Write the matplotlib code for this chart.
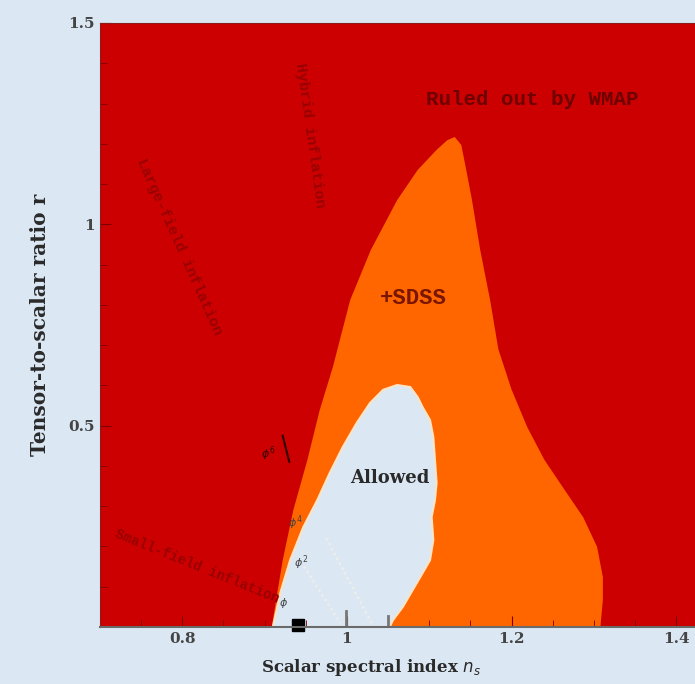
import matplotlib.pyplot as plt
from matplotlib.ticker import MultipleLocator

# outer boundary of the SDSS 95% region (orange)
sdss_ns = [0.909, 0.910, 0.922, 0.935, 0.952, 0.967, 0.983, 1.004, 1.029, 1.061,
           1.086, 1.109, 1.122, 1.131, 1.139, 1.145, 1.152, 1.162, 1.174, 1.184,
           1.200, 1.219, 1.240, 1.267, 1.287, 1.304, 1.311, 1.311, 1.308]
sdss_r = [0.0, 0.017, 0.166, 0.291, 0.415, 0.539, 0.646, 0.812, 0.936, 1.060,
          1.135, 1.185, 1.209, 1.217, 1.197, 1.135, 1.060, 0.936, 0.812, 0.690,
          0.590, 0.497, 0.415, 0.333, 0.273, 0.199, 0.124, 0.067, 0.0]

# inner "allowed" region
allowed_ns = [0.910, 0.919, 0.931, 0.947, 0.964, 0.979, 0.995, 1.012, 1.028, 1.044,
              1.061, 1.077, 1.086, 1.092, 1.101, 1.105, 1.107, 1.109, 1.107, 1.103,
              1.105, 1.101, 1.092, 1.080, 1.068, 1.056, 1.052]
allowed_r = [0.0, 0.084, 0.166, 0.248, 0.315, 0.382, 0.447, 0.507, 0.556, 0.589,
             0.601, 0.596, 0.571, 0.546, 0.514, 0.472, 0.415, 0.358, 0.315, 0.273,
             0.216, 0.166, 0.134, 0.092, 0.050, 0.017, 0.0]

xticks = [0.8, 1.0, 1.2, 1.4]
xticklabels = ['0.8', '1', '1.2', '1.4']
yticks = [0.5, 1.0, 1.5]
yticklabels = ['0.5', '1', '1.5']

bg = '#dbe8f4'
red = '#cc0000'
orange = '#ff6600'

fig = plt.figure(figsize=(6.95, 6.84), dpi=100, facecolor=bg)
ax = fig.add_axes([100 / 695, 57 / 684, 0.8 * 823 / 695, 604 / 684])
ax.set_facecolor(red)
ax.set_xlim(0.7, 1.5)
ax.set_ylim(0, 1.5)

ax.fill(sdss_ns, sdss_r, color=orange, lw=0)
ax.fill(allowed_ns, allowed_r, facecolor=bg, edgecolor='#fbe3c8', lw=1.5)

# faint dotted model tracks inside the allowed region
ax.plot([0.948, 0.992], [0.150, 0.010], ls=':', color='#f4efe6', lw=1.5)
ax.plot([0.975, 1.030], [0.220, 0.010], ls=':', color='#f4efe6', lw=1.5)

# markers on the axis
ax.plot([0.94], [0.006], marker='s', color='black', ms=8, clip_on=False)
ax.plot([0.9985, 0.9985], [0.0, 0.04], color='#777777', lw=2)
ax.plot([1.050, 1.050], [0.0, 0.028], color='#777777', lw=2)
ax.plot([0.922, 0.930], [0.475, 0.410], color='#330000', lw=1.5)

tc = '#2a2a2a'
lab_red = '#990000'
ax.text(1.225, 1.31, 'Ruled out by WMAP', color='#6e0000', fontsize=15,
        family='Liberation Mono', weight='bold', ha='center', va='center')
ax.text(1.04, 0.815, '+SDSS', color='#7a1500', fontsize=16,
        family='Liberation Mono', weight='bold', ha='left', va='center')
ax.text(1.052, 0.37, 'Allowed', color=tc, fontsize=13,
        family='DejaVu Serif', weight='bold', ha='center', va='center')
ax.text(0.797, 0.945, 'Large-field inflation', color=lab_red, fontsize=11,
        family='Liberation Mono', weight='bold', rotation=-66, ha='center', va='center')
ax.text(0.955, 1.22, 'Hybrid inflation', color=lab_red, fontsize=11,
        family='Liberation Mono', weight='bold', rotation=-82, ha='center', va='center')
ax.text(0.818, 0.15, 'Small-field inflation', color=lab_red, fontsize=10,
        family='Liberation Mono', weight='bold', rotation=-22, ha='center', va='center')
ax.text(0.905, 0.43, r'$\phi^6$', color='#330000', fontsize=8, ha='center', va='center')
ax.text(0.937, 0.26, r'$\phi^4$', color='#444444', fontsize=8, ha='center', va='center')
ax.text(0.944, 0.16, r'$\phi^2$', color='#444444', fontsize=8, ha='center', va='center')
ax.text(0.923, 0.06, r'$\phi$', color='#444444', fontsize=8, ha='center', va='center')

ax.set_xticks(xticks)
ax.set_xticklabels(xticklabels)
ax.set_yticks(yticks)
ax.set_yticklabels(yticklabels)
ax.xaxis.set_minor_locator(MultipleLocator(0.05))
ax.yaxis.set_minor_locator(MultipleLocator(0.1))
ax.tick_params(which='both', direction='in', color='#7a0000', labelcolor='#444444',
               labelsize=11)
ax.tick_params(which='major', length=8)
ax.tick_params(which='minor', length=5)
for lab in ax.get_xticklabels() + ax.get_yticklabels():
    lab.set_family('DejaVu Serif')
    lab.set_weight('bold')

for side in ['top', 'left']:
    ax.spines[side].set_color('#8b1a1a')
ax.spines['bottom'].set_color('#6a6a6a')
ax.spines['bottom'].set_linewidth(1.5)

fig.text(371 / 695, 1 - 668 / 684, r'Scalar spectral index $n_s$', color=tc,
         fontsize=12, family='DejaVu Serif', weight='bold', ha='center', va='center')
fig.text(40 / 695, 1 - 325 / 684, 'Tensor-to-scalar ratio r', color=tc,
         fontsize=14.5, family='DejaVu Serif', weight='bold', rotation=90,
         ha='center', va='center')

fig.savefig('out.png', dpi=100, facecolor=bg)
